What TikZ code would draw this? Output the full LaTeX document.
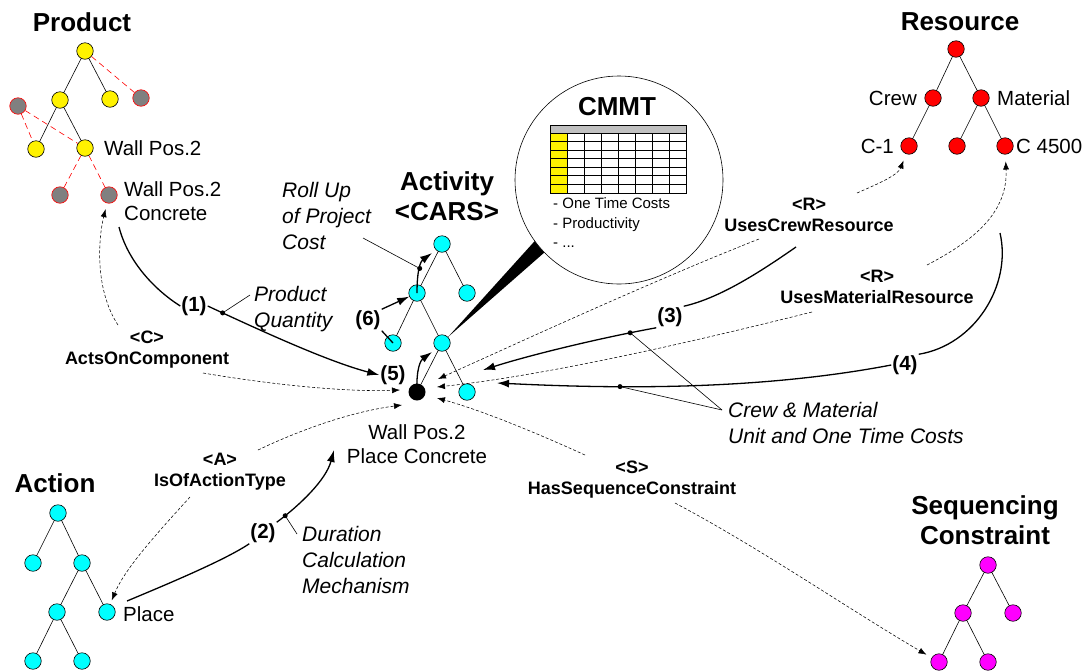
\documentclass[tikz,border=0pt]{standalone}
\usepackage{fontspec}
\setmainfont{Liberation Sans}
\usetikzlibrary{arrows.meta}
\definecolor{aqua}{RGB}{0,255,255}
\definecolor{fuchsia}{RGB}{255,0,255}
\definecolor{stone}{RGB}{128,128,128}
\definecolor{hdrgray}{RGB}{192,192,192}

\tikzset{
  tnode/.style={circle,draw,line width=0.6pt,minimum size=16.5pt,inner sep=0pt},
  prodnode/.style={tnode,fill=yellow},
  pendnode/.style={tnode,fill=stone,draw=red},
  actnode/.style={tnode,fill=aqua},
  resnode/.style={tnode,fill=red},
  seqnode/.style={tnode,fill=fuchsia},
  branch/.style={line width=0.6pt},
  redbranch/.style={red,line width=0.6pt,dash pattern=on 6pt off 4pt},
  heading/.style={font=\fontsize{26}{30}\selectfont\bfseries,align=center,inner sep=0pt},
  caption/.style={font=\fontsize{20.5}{23.5}\selectfont,inner sep=0pt},
  relname/.style={font=\fontsize{18}{21}\selectfont\bfseries,align=center,inner sep=0pt},
  remark/.style={font=\fontsize{21}{26}\selectfont\itshape,align=left,inner sep=0pt},
  stepno/.style={font=\fontsize{20.5}{23}\selectfont\bfseries,inner sep=1pt},
  flow/.style={line width=1.3pt,-{Latex[length=12pt,width=8pt]}},
  link/.style={line width=0.55pt,dash pattern=on 3pt off 2pt,-{Latex[length=8pt,width=6pt]}},
  leader/.style={line width=0.6pt},
  joint/.style={circle,fill,inner sep=0pt,minimum size=5pt}
}

\begin{document}
\begin{tikzpicture}[x=1pt,y=-1pt]
\useasboundingbox (0,0) rectangle (1091,670);

% Product tree
\node[heading] (prodH) at (82,22) {Product};
\node[prodnode] (p0) at (85,51) {};
\node[prodnode] (p1) at (60,100) {};
\node[prodnode] (p2) at (110,99) {};
\node[pendnode] (pg1) at (141,98) {};
\node[pendnode] (pg2) at (18,106) {};
\node[prodnode] (p3) at (36,149) {};
\node[prodnode] (p4) at (85,148) {};
\node[pendnode] (pg3) at (60,195) {};
\node[pendnode] (pg4) at (109,195) {};
\node[caption,anchor=west] (p4L) at (104,148) {Wall Pos.2};
\node[caption,anchor=west,align=left] (pg4L) at (124,201) {Wall Pos.2\\Concrete};
\draw[branch] (p0) -- (p1);
\draw[branch] (p0) -- (p2);
\draw[branch] (p1) -- (p3);
\draw[branch] (p1) -- (p4);
\draw[redbranch] (p0) -- (pg1);
\draw[redbranch] (pg2) -- (p3);
\draw[redbranch] (pg2) -- (p4);
\draw[redbranch] (p4) -- (pg3);
\draw[redbranch] (p4) -- (pg4);

% Activity tree
\node[heading] (actH) at (447,196) {Activity\\<CARS>};
\node[actnode] (a0) at (442,244) {};
\node[actnode] (a1) at (417,293) {};
\node[actnode] (a2) at (467,293) {};
\node[actnode] (a3) at (393,343) {};
\node[actnode] (a4) at (442,343) {};
\node[circle,fill=black,minimum size=17pt,inner sep=0pt] (wp) at (417,392) {};
\node[actnode] (a5) at (467,392) {};
\node[caption,align=center] (wpL) at (417,444) {Wall Pos.2\\Place Concrete};
\draw[branch] (a0) -- (a1);
\draw[branch] (a0) -- (a2);
\draw[branch] (a1) -- (a3);
\draw[branch] (a1) -- (a4);
\draw[branch] (a4) -- (wp);
\draw[branch] (a4) -- (a5);

% Action tree
\node[heading] (actnH) at (55,483) {Action};
\node[actnode] (b0) at (58,513) {};
\node[actnode] (b1) at (33,563) {};
\node[actnode] (b2) at (82,563) {};
\node[actnode] (b3) at (57,612) {};
\node[actnode] (b4) at (107,612) {};
\node[actnode] (b5) at (33,661) {};
\node[actnode] (b6) at (82,661) {};
\node[caption,anchor=west] (placeL) at (123,614) {Place};
\draw[branch] (b0) -- (b1);
\draw[branch] (b0) -- (b2);
\draw[branch] (b2) -- (b3);
\draw[branch] (b2) -- (b4);
\draw[branch] (b3) -- (b5);
\draw[branch] (b3) -- (b6);

% Resource tree
\node[heading] (resH) at (960,22) {Resource};
\node[resnode] (r0) at (956,49) {};
\node[resnode] (r1) at (933,98) {};
\node[resnode] (r2) at (981,98) {};
\node[resnode] (r3) at (909,146) {};
\node[resnode] (r4) at (957,146) {};
\node[resnode] (r5) at (1005,146) {};
\node[caption,anchor=east] (r1L) at (917,98) {Crew};
\node[caption,anchor=west] (r2L) at (997,98) {Material};
\node[caption,anchor=east] (r3L) at (894,146) {C-1};
\node[caption,anchor=west] (r5L) at (1016,146) {C 4500};
\draw[branch] (r0) -- (r1);
\draw[branch] (r0) -- (r2);
\draw[branch] (r1) -- (r3);
\draw[branch] (r2) -- (r4);
\draw[branch] (r2) -- (r5);

% Sequencing constraint tree
\node[heading] (seqH) at (985,520) {Sequencing\\Constraint};
\node[seqnode] (s0) at (988,565) {};
\node[seqnode] (s1) at (963,613) {};
\node[seqnode] (s2) at (1013,613) {};
\node[seqnode] (s3) at (939,662) {};
\node[seqnode] (s4) at (988,662) {};
\draw[branch] (s0) -- (s1);
\draw[branch] (s0) -- (s2);
\draw[branch] (s1) -- (s3);
\draw[branch] (s1) -- (s4);

% CMMT magnifier
\fill (a4.45) -- (570,202) -- (570,230) -- cycle;
\draw[fill=white,line width=0.6pt] (619,180) circle (104);
\node[heading] (cmmtH) at (617,107) {CMMT};
\fill[hdrgray] (550,125) rectangle (686,133);
\fill[yellow] (550,133) rectangle (567,193);
\foreach \k in {0,...,6}
  \draw[line width=0.9pt] (550,133+\k*60/7) -- (686,133+\k*60/7);
\foreach \j in {1,...,7}
  \draw[line width=0.9pt] (550+\j*17,133) -- (550+\j*17,193);
\draw[line width=0.9pt] (550,125) rectangle (686,193);
\node[font=\fontsize{15}{19.5}\selectfont,align=left,anchor=west,inner sep=0pt] (cmmtL)
  at (553,223) {- One Time Costs\\- Productivity\\- ...};

% relation labels
\node[relname] (aocL) at (147,350) {<C>\\ActsOnComponent};
\node[relname] (iatL) at (220,472) {<A>\\IsOfActionType};
\node[relname] (ucrL) at (809,215) {<R>\\UsesCrewResource};
\node[relname] (umrL) at (877,287) {<R>\\UsesMaterialResource};
\node[relname] (hscL) at (632,480) {<S>\\HasSequenceConstraint};

% step numbers and remarks
\node[stepno] (n1) at (194,306) {(1)};
\node[stepno] (n2) at (263,533) {(2)};
\node[stepno] (n3) at (670,317) {(3)};
\node[stepno] (n4) at (905,365) {(4)};
\node[stepno] (n5) at (393,375) {(5)};
\node[stepno] (n6) at (368,320) {(6)};
\node[remark,anchor=west] (pqL) at (254,309) {Product\\Quantity};
\node[remark,anchor=west] (ruL) at (282,216) {Roll Up\\of Project\\Cost};
\node[remark,anchor=west] (dcL) at (302,560) {Duration\\Calculation\\Mechanism};
\node[remark,anchor=west] (cmL) at (728,423) {Crew \& Material\\Unit and One Time Costs};

% free ends
\coordinate (c1s) at (119,227);
\coordinate (c2s) at (127,601);
\coordinate (c2e) at (334,450);
\coordinate (c3s) at (796,247);
\coordinate (c3e) at (483,370);
\coordinate (c4s) at (1000,233);
\coordinate (c4e) at (497,383);
\coordinate (up5) at (432,352);
\coordinate (up6) at (432,253);
\coordinate (pqA) at (250,295);
\coordinate (ruA) at (363,238);
\coordinate (dcA) at (297,534);
\coordinate (cmA) at (722,410);

% solid flows
\draw[line width=1.3pt] (c1s) .. controls (128,262) and (155,290) .. (n1.west);
\draw[flow] (n1.east) .. controls (270,335) and (330,362) .. coordinate[pos=0.08] (pq) (n5.west);
\draw[line width=1.3pt] (c2s) .. controls (170,583) and (225,560) .. (n2.south west);
\draw[flow] (n2.north east) .. controls (300,505) and (326,480) .. coordinate[pos=0.12] (dc) (c2e);
\draw[line width=1.3pt] (c3s) .. controls (760,272) and (720,298) .. (n3.north east);
\draw[flow] (n3.south west) .. controls (600,338) and (530,355) .. coordinate[pos=0.15] (cu3) (c3e);
\draw[line width=1.3pt] (c4s) .. controls (1012,285) and (975,345) .. (n4.north east);
\draw[flow] (n4.west) .. controls (750,392) and (600,388) .. coordinate[pos=0.65] (cu4) (c4e);
\draw[flow] (n6.north east) -- (a1);
\draw[line width=1.3pt] (n6.south east) -- (a3.center);
\draw[flow] (wp.center) .. controls (416,368) and (421,360) .. (up5);
\draw[flow] (a1.center) .. controls (417,268) and (421,261) .. coordinate[pos=0.45] (ru) (up6);

% joints and leaders
\node[joint] (pqJ) at (pq) {};
\node[joint] (dcJ) at (dc) {};
\node[joint] (ruJ) at (ru) {};
\node[joint] (cu3J) at (cu3) {};
\node[joint] (cu4J) at (cu4) {};
\draw[leader] (pqJ.center) -- (pqA);
\draw[leader] (dcJ.center) -- (dcA);
\draw[leader] (ruJ.center) -- (ruA);
\draw[leader] (cu3J.center) -- (cmA);
\draw[leader] (cu4J.center) -- (cmA);

% dashed relations
\coordinate (tC) at (400,390);
\coordinate (tA) at (402,405);
\coordinate (tR1) at (438,379);
\coordinate (tR2) at (437,387);
\coordinate (tS) at (437,398);
\draw[link,shorten >=6pt] (118,325) .. controls (95,290) and (98,240) .. (pg4);
\draw[link] (203,373) .. controls (280,386) and (350,392) .. (tC);
\draw[link] (258,450) .. controls (300,430) and (350,412) .. (tA);
\draw[link,shorten >=4pt] (190,497) .. controls (160,530) and (125,568) .. (b4);
\draw[link,shorten >=7pt] (857,193) .. controls (880,183) and (898,175) .. (r3);
\draw[link,shorten >=7pt] (927,265) .. controls (975,240) and (1008,212) .. (r5);
\draw[link] (759,239) .. controls (650,282) and (520,342) .. (tR1);
\draw[link] (812,312) .. controls (700,340) and (550,375) .. (tR2);
\draw[link] (585,455) .. controls (530,430) and (480,410) .. (tS);
\draw[link,shorten >=6pt] (675,503) .. controls (760,548) and (850,610) .. (s3);
\end{tikzpicture}
\end{document}
